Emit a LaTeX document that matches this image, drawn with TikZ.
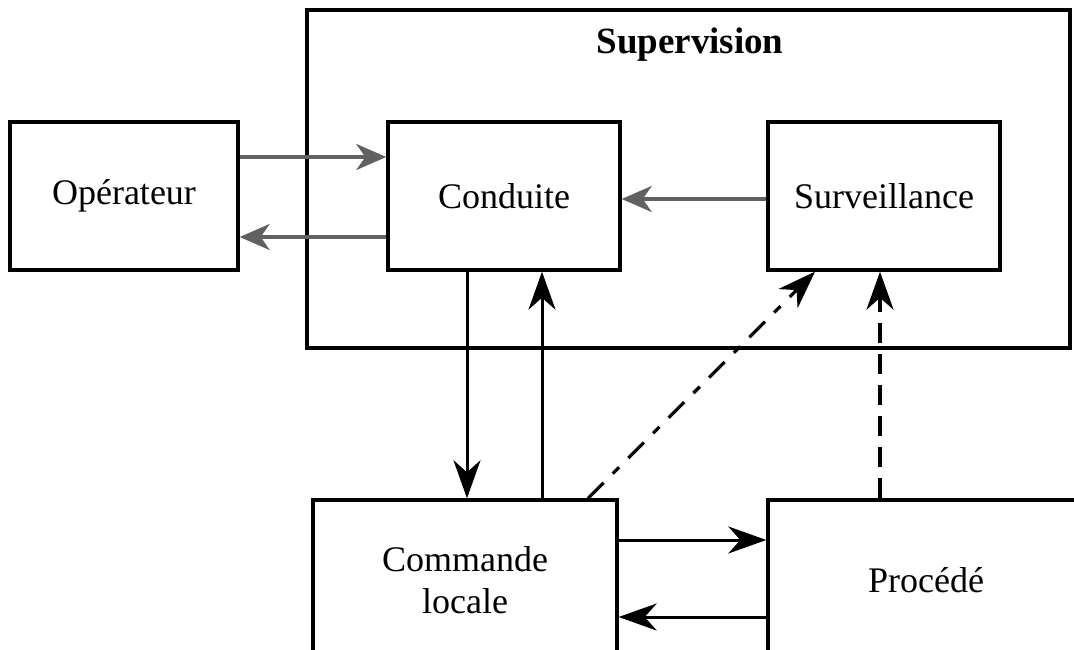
\documentclass[tikz,border=0pt]{standalone}
\usepackage{fontspec}
\setmainfont{Liberation Serif}
\usetikzlibrary{arrows.meta,calc}

\tikzset{
  blk/.style={draw, line width=3.4pt, rectangle, inner sep=0pt, align=center,
    font=\fontsize{36}{42}\selectfont},
  tipblk/.style={-{Stealth[length=38pt,width=27pt,inset=12pt]}},
  flow/.style={line width=3pt, tipblk},
  info/.style={line width=3.2pt, dash pattern=on 20pt off 11pt, tipblk},
  infomix/.style={info, dash pattern=on 22pt off 13pt on 9pt off 13pt},
  grayflow/.style={line width=3.2pt, black!62,
    -{Stealth[length=30pt,width=26pt,inset=9pt,fill=black!62]}},
}

\begin{document}
\begin{tikzpicture}[x=1pt,y=-1pt]
  \useasboundingbox (0,0) rectangle (1074,650);
  \clip (0,0) rectangle (1074,650);

  % supervision frame and its title
  \node[blk, minimum width=763pt, minimum height=338pt] (sup) at (688.5,179) {};
  \node[font=\bfseries\fontsize{37}{42}\selectfont] (suptitle) at (690,45) {Supervision};

  % blocks
  \node[blk, minimum width=228pt, minimum height=148pt] (op) at (124,196) {Opérateur};
  \node[blk, minimum width=232pt, minimum height=148pt] (cond) at (504,196) {Conduite};
  \node[blk, minimum width=232pt, minimum height=148pt] (surv) at (884,196) {Surveillance};
  \node[blk, minimum width=304pt, minimum height=160pt] (cmd) at (465,580) {Commande\\locale};
  \node[blk, minimum width=316pt, minimum height=160pt] (proc) at (926,580) {Procédé};

  % operator exchanges
  \draw[grayflow] ([yshift=39pt]op.east) -- ([yshift=39pt]cond.west);
  \draw[grayflow] ([yshift=-41pt]cond.west) -- ([yshift=-41pt]op.east);
  \draw[grayflow] ([yshift=-3pt]surv.west) -- ([yshift=-3pt]cond.east);

  % control loop
  \draw[flow] ([xshift=-37pt]cond.south) -- ([xshift=-37pt]cond.south |- cmd.north);
  \draw[flow] ([xshift=38pt]cond.south |- cmd.north) -- ([xshift=38pt]cond.south);
  \draw[flow] ([yshift=40pt]cmd.east) -- ([yshift=40pt]cmd.east -| proc.west);
  \draw[flow] ([yshift=-37pt]proc.west) -- ([yshift=-37pt]proc.west -| cmd.east);

  % monitoring information
  \draw[infomix] ([xshift=123pt]cmd.north) -- ([xshift=-69pt]surv.south);
  \draw[info] ([xshift=-4pt]surv.south |- proc.north) -- ([xshift=-4pt]surv.south);
\end{tikzpicture}
\end{document}
